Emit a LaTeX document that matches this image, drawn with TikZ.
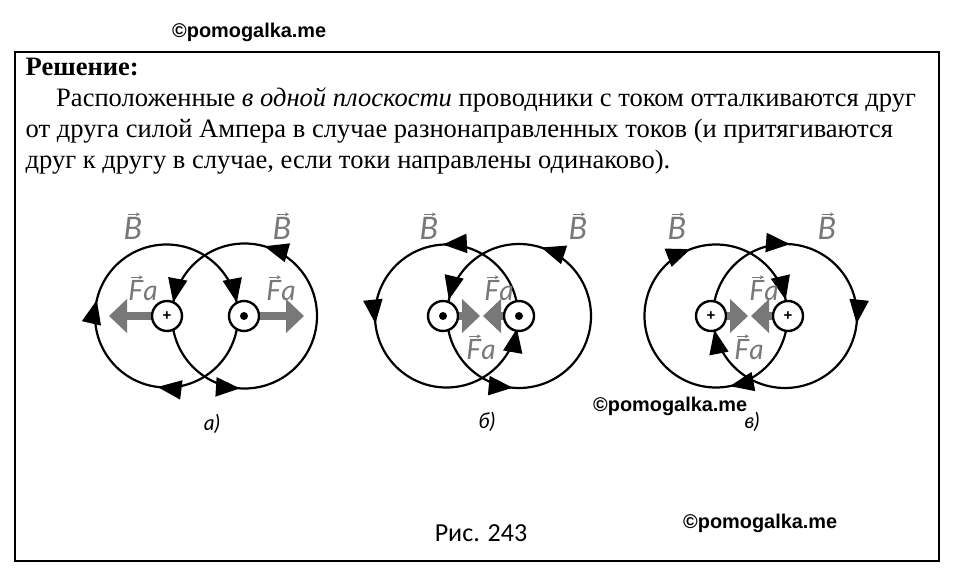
\documentclass[tikz,border=0pt]{standalone}
\usepackage{fontspec}
\setmainfont{Liberation Serif}
\setsansfont{Liberation Sans}
\newfontfamily\labelfont{Lato}
\newfontfamily\capfont{Carlito}
\usetikzlibrary{arrows.meta,decorations.markings}

\definecolor{forcegrey}{RGB}{120,120,120}

% grey letter with a small arrow over it
\newcommand{\greyvec}[2]{\tikz[baseline=(L.base)]{\node[inner sep=0pt] (L) {\labelfont\itshape #1};
    \draw[-{Stealth[length=4pt,width=4pt]},forcegrey,line width=1pt] ([xshift=-5pt,yshift=3pt]L.north) -- ([xshift=7pt,yshift=3pt]L.north);}#2}

\tikzset{
    fieldtip/.tip={Triangle[length=24pt,width=19pt]},
    fieldline/.style n args={3}{line width=2.2pt,postaction={decorate},decoration={
        markings,
        mark=at position #1 with {\arrow{fieldtip}},
        mark=at position #2 with {\arrow{fieldtip}},
        mark=at position #3 with {\arrow{fieldtip}}}},
    wire/.style={circle,draw,line width=2.4pt,fill=white,minimum size=30pt,inner sep=0pt,font=\sffamily\bfseries\fontsize{15}{15}\selectfont},
    forcearrow/.style={-{Triangle[length=18pt,width=33pt]},line width=8pt,forcegrey},
    forcelabel/.style={text=forcegrey,font=\fontsize{28}{28}\selectfont},
    fieldlabel/.style={text=forcegrey,font=\fontsize{31}{31}\selectfont},
    bodytext/.style={anchor=base west,inner sep=0pt,font=\fontsize{26.55}{26.55}\selectfont},
    watermark/.style={anchor=base west,inner sep=0pt,font=\sffamily\bfseries\fontsize{19.9}{19.9}\selectfont},
    panellabel/.style={font=\labelfont\itshape\fontsize{21}{21}\selectfont}
}

\begin{document}
\begin{tikzpicture}[x=1pt,y=1pt]

    \useasboundingbox (0,0) rectangle (960,576);
    \fill[white] (0,0) rectangle (960,576);
    \draw[line width=1.6pt] (15,15) rectangle (939,524);

    \node[bodytext] (head) at (25.5,500) {\textbf{Решение:}};
    \node[bodytext] (lineone) at (56,469) {Расположенные \textit{в одной плоскости} проводники с током отталкиваются друг};
    \node[bodytext] (linetwo) at (25.5,438) {от друга силой Ампера в случае разнонаправленных токов (и притягиваются};
    \node[bodytext] (linethree) at (25.5,407.5) {друг к другу в случае, если токи направлены одинаково).};

    % panel a
    \draw[fieldline={0.27}{0.536}{0.97}] (238,260) arc[start angle=0,end angle=-360,radius=71.5];
    \draw[fieldline={0.206}{0.47}{0.74}] (317,260) arc[start angle=0,end angle=360,radius=72.5];
    \node[wire] (wireaa) at (167,260) {+};
    \node[wire] (wireab) at (244,260) {};
    \fill (wireab) circle (4);
    \coordinate (tipaa) at (109,260);
    \coordinate (tipab) at (304,260);
    \draw[forcearrow] (wireaa.west) -- (tipaa);
    \draw[forcearrow] (wireab.east) -- (tipab);
    \node[forcelabel] (forceaa) at (143,288) {\greyvec{F}{\labelfont\itshape a}};
    \node[forcelabel] (forceab) at (281,288) {\greyvec{F}{\labelfont\itshape a}};
    \node[fieldlabel] (fieldaa) at (133,350) {\greyvec{B}{}};
    \node[fieldlabel] (fieldab) at (282,350) {\greyvec{B}{}};
    \node[panellabel] (panela) at (212,152) {а)};

    % panel b
    \draw[fieldline={0.258}{0.517}{0.972}] (518,260) arc[start angle=0,end angle=360,radius=71.5];
    \draw[fieldline={0.2}{0.464}{0.736}] (591,260) arc[start angle=0,end angle=360,radius=72];
    \node[wire] (wireba) at (443,260) {};
    \node[wire] (wirebb) at (519,260) {};
    \fill (wireba) circle (4);
    \fill (wirebb) circle (4);
    \coordinate (tipba) at (480,260);
    \coordinate (tipbb) at (483,260);
    \draw[forcearrow] (wireba.east) -- (tipba);
    \draw[forcearrow] (wirebb.west) -- (tipbb);
    \node[forcelabel] (forceba) at (499,288) {\greyvec{F}{\labelfont\itshape a}};
    \node[forcelabel] (forcebb) at (481,229) {\greyvec{F}{\labelfont\itshape a}};
    \node[fieldlabel] (fieldba) at (429,350) {\greyvec{B}{}};
    \node[fieldlabel] (fieldbb) at (578,350) {\greyvec{B}{}};
    \node[panellabel] (panelb) at (487,154) {б)};

    % panel c
    \draw[fieldline={0.219}{0.692}{0.964}] (787.5,260) arc[start angle=0,end angle=-360,radius=71.5];
    \draw[fieldline={0.017}{0.469}{0.761}] (857,260) arc[start angle=0,end angle=-360,radius=72];
    \node[wire] (wireca) at (711,260) {+};
    \node[wire] (wirecb) at (788,260) {+};
    \coordinate (tipca) at (748,260);
    \coordinate (tipcb) at (751,260);
    \draw[forcearrow] (wireca.east) -- (tipca);
    \draw[forcearrow] (wirecb.west) -- (tipcb);
    \node[forcelabel] (forceca) at (764,288) {\greyvec{F}{\labelfont\itshape a}};
    \node[forcelabel] (forcecb) at (749,229) {\greyvec{F}{\labelfont\itshape a}};
    \node[fieldlabel] (fieldca) at (677,350) {\greyvec{B}{}};
    \node[fieldlabel] (fieldcb) at (827,350) {\greyvec{B}{}};
    \node[panellabel] (panelc) at (752,154) {в)};

    \node[font=\capfont\fontsize{26}{26}\selectfont] (caption) at (481,43) {Рис. 243};

    \node[watermark] (marktop) at (172,538) {©pomogalka.me};
    \node[watermark] (markmid) at (593,164.5) {©pomogalka.me};
    \node[watermark] (markbot) at (683,48) {©pomogalka.me};

\end{tikzpicture}
\end{document}
